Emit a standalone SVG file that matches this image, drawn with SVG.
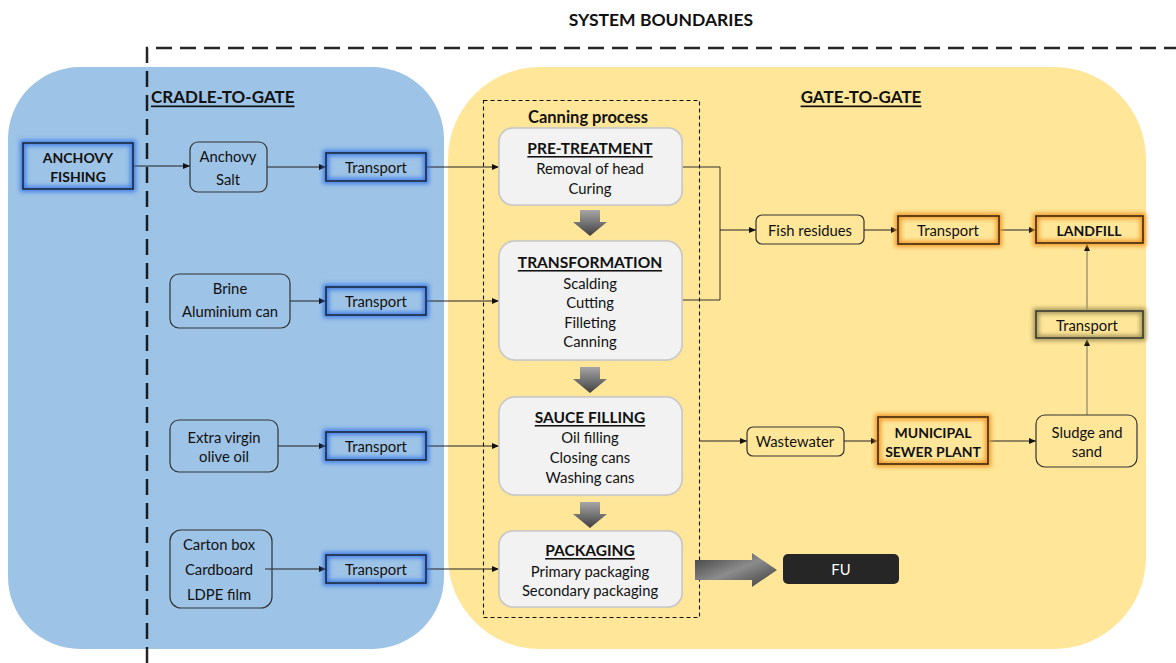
<svg xmlns="http://www.w3.org/2000/svg" width="1176" height="663" viewBox="0 0 1176 663">
<defs>
<style>
text{font-family:Lato,"Liberation Sans",sans-serif;fill:#111;text-anchor:middle;dominant-baseline:central}
.t{font-size:14.8px}
.b{font-size:14px;font-weight:bold}
.h{font-size:15.5px;font-weight:bold;text-decoration:underline}
.hh{font-size:17px;font-weight:bold;text-decoration:underline}
.conn{stroke:#222;stroke-width:1;fill:none;marker-end:url(#ah)}
.conn2{stroke:#8a8470;stroke-width:1.2;fill:none;marker-end:url(#ah)}
.rbox{fill:none;stroke:#333;stroke-width:1.2}
.proc{fill:#f2f2f2;stroke:#c8c8c8;stroke-width:1.5}
.glowB{fill:none;stroke:#2e6fe8;stroke-width:6;stroke-opacity:0.8;filter:url(#blur)}
.glowO{fill:none;stroke:#f39a2a;stroke-width:6;filter:url(#blur)}
.glowG{fill:none;stroke:#a89a5c;stroke-width:6;filter:url(#blur)}
.frame{fill:none;stroke:#1b2a3a;stroke-width:1.6}
.frameO{fill:none;stroke:#3d2a10;stroke-width:1.6}
</style>
<filter id="blur" x="-20%" y="-50%" width="140%" height="200%"><feGaussianBlur stdDeviation="2"/></filter>
<filter id="pblur" x="-10%" y="-10%" width="120%" height="120%"><feGaussianBlur stdDeviation="1.2"/></filter>
<marker id="ah" markerWidth="8" markerHeight="8" refX="7" refY="4" orient="auto" markerUnits="userSpaceOnUse"><path d="M0,1 L7,4 L0,7 Z" fill="#111"/></marker>
<linearGradient id="gd" x1="0" y1="0" x2="0" y2="1"><stop offset="0" stop-color="#a6a6a6"/><stop offset="1" stop-color="#404040"/></linearGradient>
<linearGradient id="gr" x1="0" y1="0" x2="1" y2="1"><stop offset="0" stop-color="#3a3a3a"/><stop offset="0.5" stop-color="#8c8c8c"/><stop offset="1" stop-color="#3a3a3a"/></linearGradient>
</defs>

<!-- regions -->
<g id="cradle-region">
<rect x="8" y="67" width="436" height="582" rx="72" fill="#9DC3E6"/>
<text x="151" y="96" class="hh" style="text-anchor:start">CRADLE-TO-GATE</text>
</g>
<g id="gate-region">
<rect x="448" y="67" width="698" height="582" rx="92" fill="#FFE699"/>
<text x="861" y="96" class="hh">GATE-TO-GATE</text>
</g>

<!-- system boundary -->
<g id="system-boundary">
<text x="661" y="19" style="font-size:17.5px;font-weight:bold">SYSTEM BOUNDARIES</text>
<path d="M147,663 V48 H1176" fill="none" stroke="#000" stroke-opacity="0.85" stroke-width="2.5" stroke-dasharray="16,8"/>
</g>

<g id="canning-process">
<rect x="483.5" y="100.5" width="216" height="517" fill="none" stroke="#111" stroke-width="1.1" stroke-dasharray="4,3"/>
<text x="588" y="117" style="font-size:16.5px;font-weight:bold">Canning process</text>
</g>

<!-- connectors -->
<g id="connectors">
<path class="conn" d="M133,166 H190"/>
<path class="conn" d="M267,167 H326"/>
<path class="conn" d="M426,167 H499"/>
<path class="conn" d="M290,301 H326"/>
<path class="conn" d="M426,301 H499"/>
<path class="conn" d="M278,446 H326"/>
<path class="conn" d="M426,446 H499"/>
<path class="conn" d="M265,569 H326"/>
<path class="conn" d="M426,569 H499"/>
<path d="M682,167 H720 V300 H682" fill="none" stroke="#333" stroke-width="1"/>
<path class="conn" d="M720,230 H756"/>
<path class="conn" d="M864,230 H898"/>
<path class="conn" d="M999,230 H1036"/>
<path class="conn2" d="M1087,311 V244"/>
<path class="conn2" d="M1087,415 V339"/>
<path class="conn" d="M700,441 H747"/>
<path class="conn" d="M844,441 H878"/>
<path class="conn" d="M988,441 H1036"/>
<path d="M695,560 H752 V553 L777,570 L752,587 V580 H695 Z" fill="url(#gr)"/>
</g>

<!-- process arrows between stages -->
<g id="stage-arrows">
<path d="M580,210 H600 V222 H607 L590,236 L573,222 H580 Z" fill="url(#gd)"/>
<path d="M580,367 H600 V379 H607 L590,393 L573,379 H580 Z" fill="url(#gd)"/>
<path d="M580,502 H600 V514 H607 L590,528 L573,514 H580 Z" fill="url(#gd)"/>
</g>

<!-- left nodes -->
<g id="anchovy-fishing">
<rect x="23" y="143" width="110" height="46" class="glowB"/>
<rect x="23" y="143" width="110" height="46" class="frame"/>
<text x="78" y="157" class="b">ANCHOVY</text>
<text x="78" y="176" class="b">FISHING</text>
</g>
<g id="anchovy-salt">
<rect x="190" y="142" width="77" height="50" rx="8" class="rbox"/>
<text x="228" y="156" class="t">Anchovy</text>
<text x="228" y="179" class="t">Salt</text>
</g>
<g id="transport-1">
<rect x="326" y="153" width="100" height="28" class="glowB"/>
<rect x="326" y="153" width="100" height="28" class="frame"/>
<text x="376" y="167" class="t">Transport</text>
</g>
<g id="brine">
<rect x="170" y="274" width="120" height="54" rx="9" class="rbox"/>
<text x="230" y="288" class="t">Brine</text>
<text x="230" y="311" class="t">Aluminium can</text>
</g>
<g id="transport-2">
<rect x="326" y="287" width="100" height="28" class="glowB"/>
<rect x="326" y="287" width="100" height="28" class="frame"/>
<text x="376" y="301" class="t">Transport</text>
</g>
<g id="olive-oil">
<rect x="170" y="420" width="108" height="52" rx="9" class="rbox"/>
<text x="224" y="437" class="t">Extra virgin</text>
<text x="224" y="456" class="t">olive oil</text>
</g>
<g id="transport-3">
<rect x="326" y="432" width="100" height="28" class="glowB"/>
<rect x="326" y="432" width="100" height="28" class="frame"/>
<text x="376" y="446" class="t">Transport</text>
</g>
<g id="packaging-materials">
<rect x="170" y="530" width="102" height="78" rx="11" class="rbox"/>
<text x="219" y="544" class="t">Carton box</text>
<text x="219" y="569" class="t">Cardboard</text>
<text x="219" y="594" class="t">LDPE film</text>
</g>
<g id="transport-4">
<rect x="326" y="555" width="100" height="28" class="glowB"/>
<rect x="326" y="555" width="100" height="28" class="frame"/>
<text x="376" y="569" class="t">Transport</text>
</g>

<!-- process stages -->
<g id="pre-treatment">
<rect x="499" y="128" width="183" height="77" rx="14" fill="#bfbfbf" filter="url(#pblur)"/>
<rect x="499" y="128" width="183" height="77" rx="14" class="proc"/>
<text x="590" y="148" class="h">PRE-TREATMENT</text>
<text x="590" y="168" class="t">Removal of head</text>
<text x="590" y="188" class="t">Curing</text>
</g>
<g id="transformation">
<rect x="499" y="241" width="183" height="119" rx="16" fill="#bfbfbf" filter="url(#pblur)"/>
<rect x="499" y="241" width="183" height="119" rx="16" class="proc"/>
<text x="590" y="262" class="h">TRANSFORMATION</text>
<text x="590" y="283" class="t">Scalding</text>
<text x="590" y="302" class="t">Cutting</text>
<text x="590" y="322" class="t">Filleting</text>
<text x="590" y="341" class="t">Canning</text>
</g>
<g id="sauce-filling">
<rect x="499" y="397" width="183" height="98" rx="16" fill="#bfbfbf" filter="url(#pblur)"/>
<rect x="499" y="397" width="183" height="98" rx="16" class="proc"/>
<text x="590" y="417" class="h">SAUCE FILLING</text>
<text x="590" y="437" class="t">Oil filling</text>
<text x="590" y="457" class="t">Closing cans</text>
<text x="590" y="477" class="t">Washing cans</text>
</g>
<g id="packaging">
<rect x="499" y="531" width="183" height="76" rx="14" fill="#bfbfbf" filter="url(#pblur)"/>
<rect x="499" y="531" width="183" height="76" rx="14" class="proc"/>
<text x="590" y="550" class="h">PACKAGING</text>
<text x="590" y="571" class="t">Primary packaging</text>
<text x="590" y="590" class="t">Secondary packaging</text>
</g>

<!-- right nodes -->
<g id="fish-residues">
<rect x="756" y="215" width="108" height="29" rx="6" class="rbox"/>
<text x="810" y="230" class="t">Fish residues</text>
</g>
<g id="transport-5">
<rect x="898" y="216" width="101" height="28" class="glowO"/>
<rect x="898" y="216" width="101" height="28" class="frameO"/>
<text x="948" y="230" class="t">Transport</text>
</g>
<g id="landfill">
<rect x="1036" y="216" width="107" height="27" class="glowO"/>
<rect x="1036" y="216" width="107" height="27" class="frameO"/>
<text x="1089" y="230" class="b">LANDFILL</text>
</g>
<g id="transport-6">
<rect x="1036" y="311" width="107" height="27" class="glowG"/>
<rect x="1036" y="311" width="107" height="27" fill="none" stroke="#333" stroke-width="1.5"/>
<text x="1087" y="325" class="t">Transport</text>
</g>
<g id="wastewater">
<rect x="747" y="427" width="97" height="29" rx="6" class="rbox"/>
<text x="795" y="441" class="t">Wastewater</text>
</g>
<g id="sewer-plant">
<rect x="878" y="417" width="110" height="47" class="glowO"/>
<rect x="878" y="417" width="110" height="47" class="frameO"/>
<text x="933" y="432" class="b">MUNICIPAL</text>
<text x="933" y="451" class="b">SEWER PLANT</text>
</g>
<g id="sludge">
<rect x="1036" y="415" width="101" height="52" rx="9" class="rbox"/>
<text x="1087" y="432" class="t">Sludge and</text>
<text x="1087" y="451" class="t">sand</text>
</g>
<g id="fu">
<rect x="783" y="554" width="116" height="30" rx="5" fill="#262626"/>
<text x="841" y="569" class="t" style="fill:#fff">FU</text>
</g>
</svg>
